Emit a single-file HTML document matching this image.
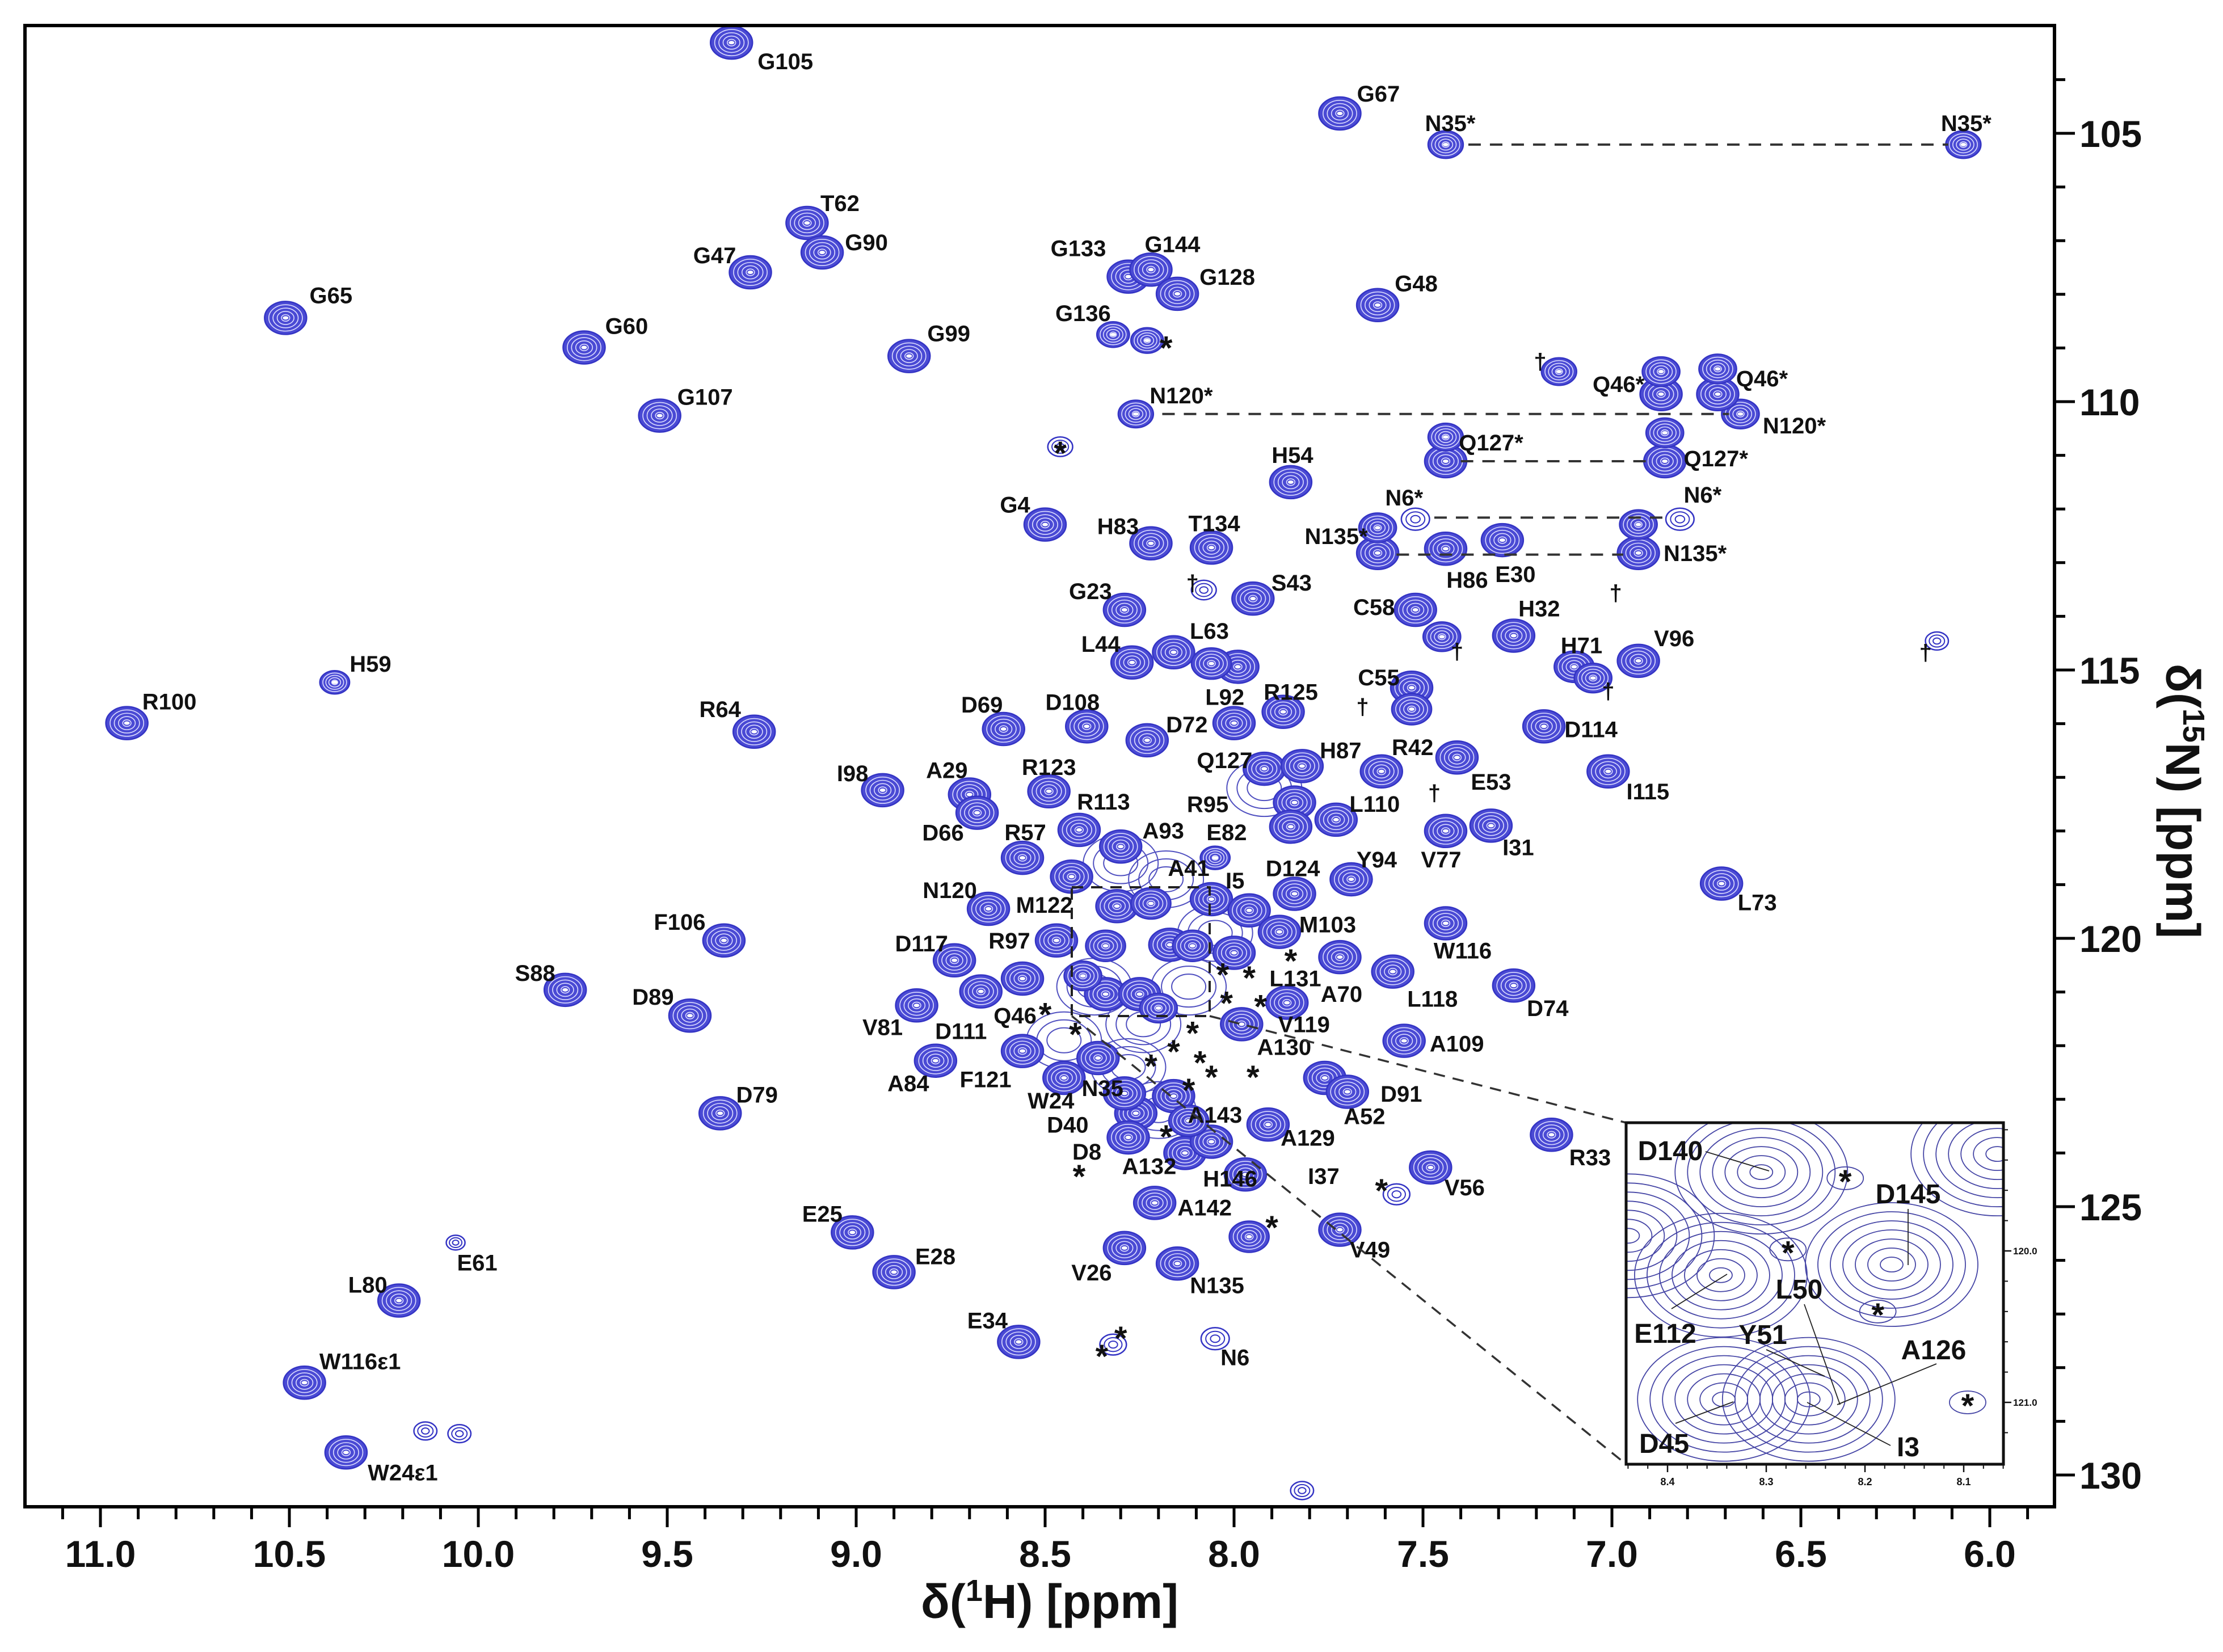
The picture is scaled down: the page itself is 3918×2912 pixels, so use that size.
<!DOCTYPE html>
<html><head><meta charset="utf-8">
<style>
html,body{margin:0;padding:0;background:#fff;}
svg{display:block;}
text{font-family:"Liberation Sans",sans-serif;font-weight:bold;fill:#111;}
</style></head>
<body>
<svg id="chart" xmlns="http://www.w3.org/2000/svg" width="3918" height="2912" viewBox="0 0 3918 2912">
<rect width="3918" height="2912" fill="#fff"/>
<defs>
<clipPath id="plotclip"><rect x="44" y="45" width="3577" height="2611"/></clipPath>
<clipPath id="insetclip"><rect x="2866" y="1979" width="665" height="602"/></clipPath>
</defs>
<g id="peaks" clip-path="url(#plotclip)"></g>
<g id="annot"></g>
<g id="inset"></g>
<g id="axes"></g>
</svg>
<script>
// ---- data (ppm) ----
const peakNames = ["G105","G67","N35*","N35*","T62","G90","G47","G65","G133","G144","G128","G48","G60","G99","G136","N120*","N120*","Q46*","Q46*","G107","Q127*","Q127*","H54","N6*","N6*","G4","H83","T134","N135*","N135*","H86","E30","S43","G23","C58","H32","V96","H71","H59","L44","L63","L92","C55","R125","D69","D108","D72","D114","R100","R64","I115","Q127","H87","R42","E53","I98","A29","D66","R123","R95","L110","V77","I31","E82","R113","A93","R57","A41","I5","D124","Y94","L73","N120","M122","M103","W116","R97","D117","F106","A70","L131","L118","D74","S88","D89","V81","D111","Q46","V119","A130","A109","A84","F121","W24","N35","D91","A52","A143","D40","R33","D79","A129","D8","A132","H146","I37","V56","A142","E25","V49","V26","E61","E28","L80","N135","E34","N6","W116ε1","W24ε1"];
const peakH = [9.33,7.72,7.44,6.07,9.13,9.09,9.28,10.51,8.28,8.22,8.15,7.62,9.72,8.86,8.32,8.26,6.66,6.87,6.72,9.52,7.44,6.86,7.85,7.52,6.82,8.50,8.22,8.06,7.62,6.93,7.44,7.29,7.95,8.29,7.52,7.26,6.93,7.10,10.38,8.27,8.16,7.99,7.53,8.00,8.61,8.39,8.23,7.18,10.93,9.27,7.01,7.92,7.82,7.61,7.41,8.93,8.70,8.68,8.49,7.84,7.73,7.44,7.32,7.85,8.41,8.30,8.56,8.06,7.96,7.84,7.69,6.71,8.65,8.43,7.88,7.44,8.47,8.74,9.35,7.72,8.00,7.58,7.26,9.77,9.44,8.84,8.67,8.56,7.86,7.98,7.55,8.79,8.56,8.45,8.36,7.76,7.70,8.16,8.26,7.16,9.36,7.91,8.28,8.13,8.06,7.97,7.48,8.21,9.01,7.72,8.29,10.06,8.90,10.21,8.15,8.57,8.05,10.46,10.35];
const peakN = [103.31,104.63,105.21,105.21,106.67,107.22,107.59,108.44,107.67,107.54,107.99,108.20,108.99,109.15,108.75,110.23,110.23,109.86,109.86,110.26,111.11,111.11,111.50,112.19,112.19,112.29,112.64,112.72,112.82,112.82,112.74,112.58,113.67,113.88,113.88,114.36,114.83,114.94,115.23,114.86,114.67,114.94,115.33,115.99,116.10,116.05,116.31,116.05,115.99,116.15,116.89,116.84,116.79,116.89,116.63,117.24,117.32,117.66,117.26,117.47,117.79,118.00,117.90,117.92,117.98,118.29,118.50,119.27,119.48,119.17,118.90,118.98,119.45,118.85,119.88,119.72,120.04,120.41,120.04,120.35,120.27,120.62,120.88,120.96,121.44,121.25,120.99,120.75,121.20,121.60,121.91,122.28,122.10,122.60,122.23,122.60,122.86,122.94,123.26,123.66,123.26,123.47,123.71,124.00,123.79,124.40,124.27,124.93,125.48,125.43,125.77,125.67,126.22,126.75,126.06,127.52,127.46,128.28,129.58];
const peakIntensity = [
 1,1,0.7,0.7,1,1,1,1,1,1,
 1,1,1,1,0.6,0.7,0.8,1,1,1,
 1,1,1,0.45,0.45,1,1,1,1,1,
 1,1,1,1,1,1,1,0.9,0.5,1,
 1,1,1,1,1,1,1,1,1,1,
 1,1,1,1,1,1,1,1,1,1,
 1,1,1,1,1,1,1,1,1,1,
 1,1,1,1,1,1,1,1,1,1,
 1,1,1,1,1,1,1,1,1,1,
 1,1,1,1,1,1,1,1,1,1,
 1,1,1,1,1,1,1,1,1,1,
 1,0.2,1,1,1,1,0.45,1,1];
// label offsets (layout, px)
const labelDX = [95,68,8,5,58,78,-63,80,-88,38,88,68,75,70,-53,80,95,-75,78,80,80,90,3,-20,40,-53,-58,5,-73,100,38,23,68,-60,-73,45,63,13,63,-55,63,-23,-58,100,-38,-25,70,83,75,-60,70,-70,68,55,60,-53,-40,-60,0,-153,68,-8,48,-113,43,75,5,-40,-25,-3,45,63,-68,-48,85,30,-83,-58,-78,3,108,70,60,-53,-65,-60,-35,-13,30,75,93,-48,-65,-23,8,135,30,73,-120,68,65,70,-73,-63,33,138,60,88,-53,53,-58,38,73,-55,70,-55,35,98,100];
const labelDY = [33,-35,-38,-38,-35,-18,-30,-40,-50,-45,-30,-38,-38,-40,-38,-33,20,-18,-28,-33,-33,-5,-48,-38,-43,-35,-30,-43,-30,0,55,60,-28,-33,-5,-48,-40,-38,-33,-33,-38,53,-18,-55,-43,-43,-28,5,-38,-40,35,-15,-28,-43,43,-30,-43,35,-43,3,-28,50,38,10,-50,-28,-45,-55,-53,-45,-35,33,-33,50,-13,48,0,-30,-33,65,45,48,40,-30,-33,38,70,65,38,40,5,40,50,40,53,28,43,33,20,40,-33,23,25,23,65,3,35,8,-33,35,43,35,-28,-28,38,-38,33,-38,35];

const extraH = [8.23,7.14,6.87,6.72,8.46,7.44,6.86,7.62,6.93,8.08,7.45,7.05,6.14,8.06,7.53,7.87,7.96,10.14,10.05,8.32,7.82,7.57,8.31,8.17,8.34,8.25,8.34,8.22,8.11,8.40,8.05,8.29,8.12,8.20];
const extraN = [108.86,109.44,109.44,109.39,110.84,110.66,110.58,112.35,112.29,113.51,114.38,115.15,114.46,114.88,115.73,115.78,125.56,129.18,129.23,127.57,130.29,124.77,119.40,120.12,121.04,121.04,120.14,119.35,120.14,120.70,118.50,122.89,123.40,121.30];
const extraIntensity = [0.6,0.7,0.8,0.8,0.35,0.7,0.8,0.8,0.8,0.35,0.8,0.8,0.3,0.9,0.9,1,0.9,0.3,0.3,0.4,0.3,0.4,1,1,1,1,0.9,0.9,0.9,0.8,0.5,1,0.9,0.8];
// weak broad background contours in the crowded centre
const weakH = [8.30,8.18,8.05,8.37,8.24,8.12,8.28,8.45,8.20,7.92];
const weakN = [118.6,118.9,119.9,120.9,121.6,120.9,122.4,121.9,123.2,117.2];

const starH = [8.46,8.18,8.50,8.42,8.03,7.96,8.02,7.93,7.85,8.11,8.22,8.16,8.09,8.06,7.95,8.12,8.18,8.41,7.61,7.90,8.30,8.35];
const starN = [110.92,108.96,121.38,121.75,120.64,120.70,121.17,121.23,120.38,121.73,122.34,122.07,122.28,122.55,122.55,122.79,123.66,124.40,124.66,125.35,127.41,127.75];
const daggerH = [8.11,7.19,6.99,7.41,7.01,7.66,7.47,6.17];
const daggerN = [113.38,109.25,113.56,114.65,115.39,115.68,117.29,114.67];
const pairN = [105.21,110.23,111.11,112.16,112.85];
const pairFrom = [7.38,8.19,7.40,7.47,7.57];
const pairTo = [6.11,6.69,6.89,6.85,6.97];

const xTickMajor = [11.0,10.5,10.0,9.5,9.0,8.5,8.0,7.5,7.0,6.5,6.0];
const xTickLabels = ["11.0","10.5","10.0","9.5","9.0","8.5","8.0","7.5","7.0","6.5","6.0"];
const yTickMajor = [105,110,115,120,125,130];
const yTickLabels = ["105","110","115","120","125","130"];

const insetPeakH = [8.305,8.173,8.346,8.343,8.257,8.44,8.066];
const insetPeakN = [119.48,120.09,120.16,120.98,120.98,119.9,119.36];
const insetStarH = [8.22,8.278,8.187,8.096];
const insetStarN = [119.52,119.99,120.40,121.0];
const insetXTicks = [8.4,8.3,8.2,8.1];
const insetXLabels = ["8.4","8.3","8.2","8.1"];
const insetYTicks = [120,121];
const insetYLabels = ["120.0","121.0"];

// ---- scales ----
const NS="http://www.w3.org/2000/svg";
function xs(h){return 177+(11.0-h)*666;}
function ys(n){return 235+(n-105)*94.6;}
function ixs(h){return 2939+(8.4-h)*1740;}
function iys(n){return 2205+(n-120)*267;}
function mk(tag,attrs,parent){const e=document.createElementNS(NS,tag);for(const k in attrs)e.setAttribute(k,attrs[k]);parent.appendChild(e);return e;}
const gP=document.getElementById('peaks'),gA=document.getElementById('annot'),gI=document.getElementById('inset'),gX=document.getElementById('axes');

for(let i=0;i<weakH.length;i++){
  const g=mk('g',{},gP);
  
  
  for(let r=0;r<3;r++){
    mk('ellipse',{cx:xs(weakH[i]),cy:ys(weakN[i]),rx:30+r*18,ry:22+r*14,fill:'none',stroke:'#5050c0','stroke-width':2},g);
  }
}
function drawPeak(h,n,k,name){
  const g=mk('g',{},gP);
  
  
  const cx=xs(h),cy=ys(n);
  const rx=37*Math.sqrt(k),ry=29*Math.sqrt(k);
  mk('ellipse',{cx:cx,cy:cy,rx:rx,ry:ry,fill:k<0.5?'none':'#4a4ad4',stroke:'#3434c4','stroke-width':2.5},g);
  const rings=k<0.5?2:4;
  for(let i=1;i<=rings;i++){
    const f=1-i/(rings+1);
    mk('ellipse',{cx:cx,cy:cy,rx:rx*f,ry:ry*f,fill:'none',stroke:k<0.5?'#3434c4':'#dcdcff','stroke-width':k<0.5?2:1.6},g);
  }
  if(k>=0.5) mk('ellipse',{cx:cx,cy:cy,rx:5,ry:3,fill:'#fff'},g);
}
for(let i=0;i<peakNames.length;i++){
  drawPeak(peakH[i],peakN[i],peakIntensity[i],'peak-'+peakNames[i].toLowerCase());
}
for(let i=0;i<extraH.length;i++){
  drawPeak(extraH[i],extraN[i],extraIntensity[i],'unassigned-peak');
}
for(let i=0;i<peakNames.length;i++){
  const t=mk('text',{x:xs(peakH[i])+labelDX[i],y:ys(peakN[i])+labelDY[i]+14,'font-size':40,'text-anchor':'middle'},gA);
  t.textContent=peakNames[i];
  
  
}
for(let i=0;i<starH.length;i++){
  const t=mk('text',{x:xs(starH[i]),y:ys(starN[i])+24,'font-size':58,'text-anchor':'middle'},gA);
  t.textContent='*';
  
  
}
for(let i=0;i<daggerH.length;i++){
  const t=mk('text',{x:xs(daggerH[i]),y:ys(daggerN[i])+14,'font-size':40,'text-anchor':'middle'},gA);
  t.textContent='†';
  
  
}
for(let i=0;i<pairN.length;i++){
  const l=mk('line',{x1:xs(pairFrom[i]),x2:xs(pairTo[i]),y1:ys(pairN[i]),y2:ys(pairN[i]),stroke:'#333','stroke-width':4,'stroke-dasharray':'22 16'},gA);
  
  
}
const zr=mk('rect',{x:1889,y:1564,width:243,height:227,fill:'none',stroke:'#222','stroke-width':4,'stroke-dasharray':'20 14'},gA);


const c1=mk('line',{x1:2132,y1:1791,x2:2866,y2:1979,stroke:'#333','stroke-width':3.5,'stroke-dasharray':'20 14'},gA);


const c2=mk('line',{x1:1889,y1:1791,x2:2866,y2:2581,stroke:'#333','stroke-width':3.5,'stroke-dasharray':'20 14'},gA);



// ---- inset ----
mk('rect',{x:2866,y:1979,width:665,height:602,fill:'#fff'},gI);
const gIc=mk('g',{'clip-path':'url(#insetclip)'},gI);
for(let i=0;i<insetPeakH.length;i++){
  const cx=ixs(insetPeakH[i]),cy=iys(insetPeakN[i]);
  for(let r=0;r<7;r++){
    mk('ellipse',{cx:cx,cy:cy,rx:20+r*22,ry:13+r*16,fill:'none',stroke:'#4545a5','stroke-width':1.8},gIc);
  }
}
for(let i=0;i<insetStarH.length;i++){
  const cx=ixs(insetStarH[i]),cy=iys(insetStarN[i]);
  mk('ellipse',{cx:cx,cy:cy,rx:32,ry:20,fill:'none',stroke:'#4545a5','stroke-width':1.8},gIc);
  const t=mk('text',{x:cx,y:cy+26,'font-size':58,'text-anchor':'middle'},gI);
  t.textContent='*';
  
  
}
const insetLabels=[["D140",2944,2028],["D145",3363,2104],["L50",3171,2272],["E112",2935,2350],["Y51",3107,2352],["A126",3408,2379],["D45",2933,2544],["I3",3363,2550]];
for(const L of insetLabels){
  const t=mk('text',{x:L[1],y:L[2]+17,'font-size':48,'text-anchor':'middle'},gI);
  t.textContent=L[0];
  
  
}
const leaders=[[3006,2030,3118,2064],[2946,2307,3044,2246],[3363,2131,3363,2230],[3180,2299,3243,2476],[3113,2379,3216,2426],[3413,2404,3238,2476],[2953,2509,3055,2471],[3332,2548,3185,2472]];
for(const Ld of leaders){
  const l=mk('line',{x1:Ld[0],y1:Ld[1],x2:Ld[2],y2:Ld[3],stroke:'#222','stroke-width':1.8},gI);
  
  
}
mk('rect',{x:2866,y:1979,width:665,height:602,fill:'none',stroke:'#111','stroke-width':5},gI);
for(let v=8.44;v>=8.06;v-=0.02){
  const x=ixs(v); mk('line',{x1:x,x2:x,y1:2581,y2:2589,stroke:'#111','stroke-width':2},gI);
}
for(let i=0;i<insetXTicks.length;i++){
  const x=ixs(insetXTicks[i]);
  mk('line',{x1:x,x2:x,y1:2581,y2:2595,stroke:'#111','stroke-width':2.5},gI);
  const t=mk('text',{x:x,y:2618,'font-size':18,'text-anchor':'middle'},gI);
  t.textContent=insetXLabels[i];
  
  
}
for(let v=119.2;v<=121.4;v+=0.2){
  const y=iys(v); mk('line',{x1:3531,x2:3539,y1:y,y2:y,stroke:'#111','stroke-width':2},gI);
}
for(let i=0;i<insetYTicks.length;i++){
  const y=iys(insetYTicks[i]);
  mk('line',{x1:3531,x2:3545,y1:y,y2:y,stroke:'#111','stroke-width':2.5},gI);
  const t=mk('text',{x:3548,y:y+6,'font-size':17},gI);
  t.textContent=insetYLabels[i];
  
  
}

// ---- axes ----
const frame=mk('rect',{x:44,y:45,width:3577,height:2611,fill:'none',stroke:'#000','stroke-width':6},gX);


for(let i=0;i<=53;i++){
  const v=11.2-i*0.1; const x=xs(v);
  if(x<44||x>3621) continue;
  mk('line',{x1:x,x2:x,y1:2656,y2:2678,stroke:'#000','stroke-width':5},gX);
}
for(let i=0;i<xTickMajor.length;i++){
  const x=xs(xTickMajor[i]);
  mk('line',{x1:x,x2:x,y1:2656,y2:2692,stroke:'#000','stroke-width':5},gX);
  const t=mk('text',{x:x,y:2762,'font-size':66,'text-anchor':'middle'},gX);
  t.textContent=xTickLabels[i];
  
  
}
for(let n=104;n<=130;n++){
  const y=ys(n);
  mk('line',{x1:3621,x2:n%5===0?3657:3640,y1:y,y2:y,stroke:'#000','stroke-width':5},gX);
}
for(let i=0;i<yTickMajor.length;i++){
  const y=ys(yTickMajor[i]);
  const t=mk('text',{x:3665,y:y+24,'font-size':66},gX);
  t.textContent=yTickLabels[i];
  
  
}
const xt=mk('text',{x:1850,y:2852,'font-size':84,'text-anchor':'middle'},gX);
xt.innerHTML='δ(<tspan baseline-shift="super" font-size="54">1</tspan>H) [ppm]';


const yt=mk('text',{x:0,y:0,'font-size':84,'text-anchor':'middle',transform:'translate(3818,1412) rotate(90)'},gX);
yt.innerHTML='δ(<tspan baseline-shift="super" font-size="54">15</tspan>N) [ppm]';


</script>
</body></html>
